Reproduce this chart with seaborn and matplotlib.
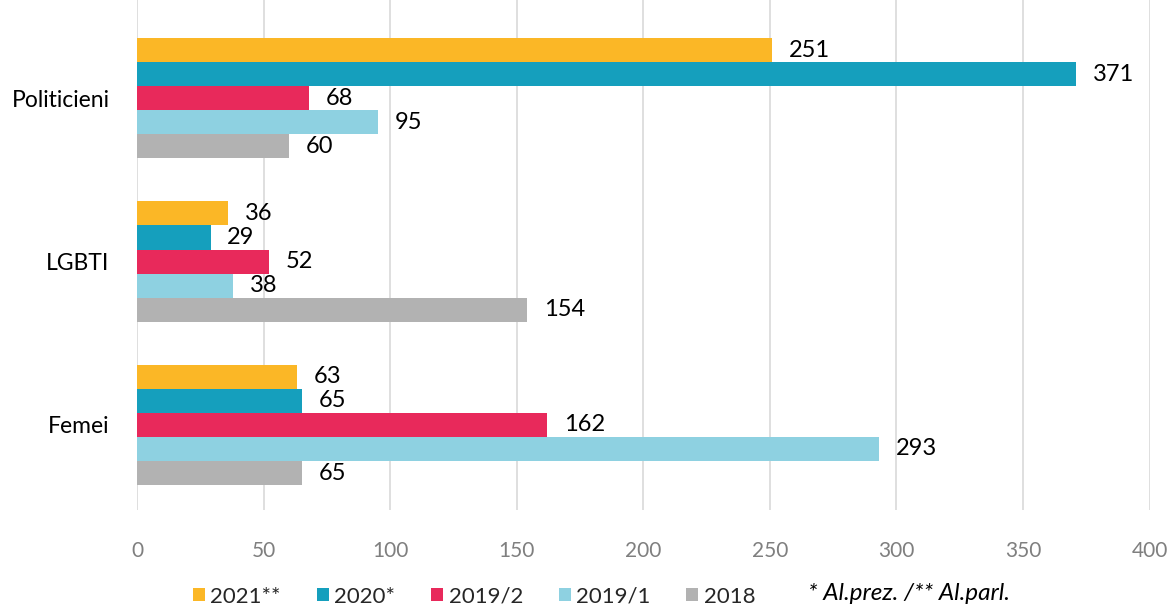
import pandas as pd
import matplotlib.pyplot as plt
import seaborn as sns

categorii = ["Politicieni", "LGBTI", "Femei"]
ani = ["2021**", "2020*", "2019/2", "2019/1", "2018"]
val_2021 = [251, 36, 63]
val_2020 = [371, 29, 65]
val_2019_2 = [68, 52, 162]
val_2019_1 = [95, 38, 293]
val_2018 = [60, 154, 65]
culori = ["#FBB726", "#159FBD", "#E8295B", "#8ED1E1", "#B2B2B2"]

rows = []
for an, vals in zip(ani, [val_2021, val_2020, val_2019_2, val_2019_1, val_2018]):
    for c, v in zip(categorii, vals):
        rows.append({"cat": c, "an": an, "val": v})
df = pd.DataFrame(rows)

sns.set_style("white")
plt.rcParams['font.family'] = ['Lato', 'DejaVu Sans']

fig = plt.figure(figsize=(11.73, 6.10), dpi=100)
ax = fig.add_axes([0.117, 0.164, 0.863, 0.836])
sns.barplot(data=df, y="cat", x="val", hue="an", order=categorii, hue_order=ani,
            palette=culori, orient="h", width=0.735, saturation=1, linewidth=0,
            ax=ax, legend=True)

for cont in ax.containers:
    ax.bar_label(cont, padding=12, fontsize=17, color="black")

ax.set_xlim(0, 400)
ax.set_ylim(2.52, -0.6)
ax.set_xticks(range(0, 401, 50))
ax.xaxis.grid(True, color="#D9D9D9", linewidth=1.2)
ax.set_axisbelow(True)
for s in ax.spines.values():
    s.set_visible(False)
ax.set_xlabel("")
ax.set_ylabel("")
ax.tick_params(axis="x", labelsize=15, labelcolor="#7F7F7F", length=0, pad=22)
ax.tick_params(axis="y", labelsize=16.5, labelcolor="black", length=0, pad=20)

h, l = ax.get_legend_handles_labels()
ax.legend(h, l, loc="center left", bbox_to_anchor=(0.035, -0.17), ncol=5, frameon=False,
          fontsize=16, handlelength=0.55, handleheight=0.55, handletextpad=0.25, columnspacing=1.6)
fig.text(0.689, 0.016, "* Al.prez. /** Al.parl.", fontsize=17.5, style="italic", color="black")

fig.savefig("out.png", dpi=100)
